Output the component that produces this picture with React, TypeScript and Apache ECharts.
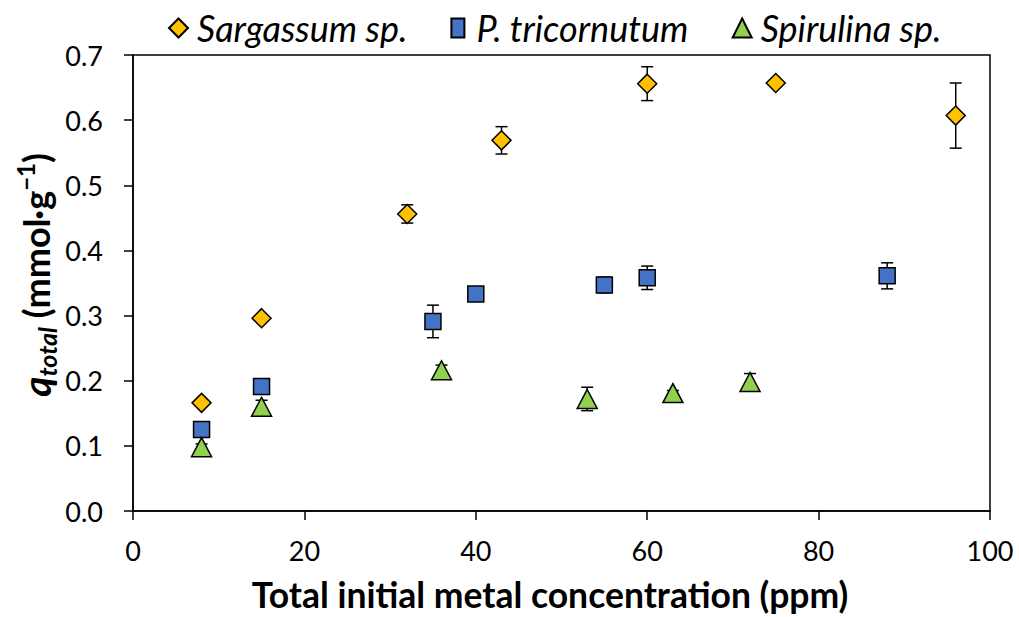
import React, { useEffect, useRef } from "react";
import * as echarts from "echarts";

const seriesNames = ["Sargassum sp.", "P. tricornutum", "Spirulina sp."];

const sargX = [8, 15, 32, 43, 60, 75, 96];
const sargY = [0.166, 0.296, 0.456, 0.569, 0.656, 0.657, 0.607];
const sargErr = [0.003, 0.003, 0.014, 0.021, 0.026, 0.003, 0.05];

const tricX = [8, 15, 35, 40, 55, 60, 88];
const tricY = [0.125, 0.191, 0.291, 0.333, 0.347, 0.358, 0.361];
const tricErr = [0.003, 0.003, 0.025, 0.003, 0.012, 0.018, 0.02];

const spirX = [8, 15, 36, 53, 63, 72];
const spirY = [0.098, 0.16, 0.216, 0.172, 0.181, 0.198];
const spirErr = [0.005, 0.01, 0.008, 0.018, 0.004, 0.013];

const xTitle = "Total initial metal concentration (ppm)";

const FONT = "Lato, 'Liberation Sans', sans-serif";

const zip = (xs: number[], ys: number[], es: number[]) =>
  xs.map((x, i) => [x, ys[i], es[i]]);

const errRender = (params: any, api: any) => {
  const x = api.value(0);
  const y = api.value(1);
  const e = api.value(2);
  const p0 = api.coord([x, y - e]);
  const p1 = api.coord([x, y + e]);
  const hw = 6;
  const style = { stroke: "#000", lineWidth: 1.5 };
  return {
    type: "group",
    children: [
      { type: "line", shape: { x1: p0[0], y1: p0[1], x2: p1[0], y2: p1[1] }, style },
      { type: "line", shape: { x1: p0[0] - hw, y1: p0[1], x2: p0[0] + hw, y2: p0[1] }, style },
      { type: "line", shape: { x1: p1[0] - hw, y1: p1[1], x2: p1[0] + hw, y2: p1[1] }, style },
    ],
  };
};

export default function App() {
  const ref = useRef<HTMLDivElement>(null);
  useEffect(() => {
    document.body.style.margin = "0";
    const chart = echarts.init(ref.current!, null, { renderer: "svg" });
    const option: any = {
      animation: false,
      backgroundColor: "#fff",
      grid: {
        left: 133,
        top: 55,
        right: 29,
        bottom: 106,
        show: true,
        borderColor: "#000",
        borderWidth: 1.5,
        containLabel: false,
        outerBoundsMode: "none",
      },
      legend: {
        left: 168,
        top: 10,
        padding: 0,
        itemWidth: 19,
        itemHeight: 19,
        itemGap: 43,
        textStyle: {
          fontFamily: FONT,
          fontStyle: "italic",
          fontSize: 36,
          color: "#000",
          padding: [0, 0, 0, 4],
        },
        data: [
          { name: seriesNames[0], icon: "diamond" },
          { name: seriesNames[1], icon: "path://M0 0H13V19H0Z" },
          { name: seriesNames[2], icon: "triangle" },
        ],
      },
      xAxis: {
        type: "value",
        min: 0,
        max: 100,
        interval: 20,
        axisLine: { show: true, lineStyle: { color: "#000", width: 1.5 } },
        axisTick: { show: true, inside: false, length: 9, lineStyle: { color: "#000", width: 1.5 } },
        splitLine: { show: false },
        axisLabel: { margin: 26, fontFamily: FONT, fontSize: 27, color: "#000" },
      },
      yAxis: {
        type: "value",
        min: 0,
        max: 0.7,
        interval: 0.1,
        axisLine: { show: true, lineStyle: { color: "#000", width: 1.5 } },
        axisTick: { show: true, inside: false, length: 9, lineStyle: { color: "#000", width: 1.5 } },
        splitLine: { show: false },
        axisLabel: {
          margin: 30,
          fontFamily: FONT,
          fontSize: 27,
          color: "#000",
          formatter: (v: number) => v.toFixed(1),
        },
      },
      graphic: [
        {
          type: "text",
          x: 550,
          y: 594,
          style: {
            text: xTitle,
            fontFamily: FONT,
            fontWeight: "bold",
            fontSize: 35.5,
            fill: "#000",
            textAlign: "center",
            textVerticalAlign: "middle",
          },
        },
        {
          type: "text",
          x: 36,
          y: 275,
          rotation: Math.PI / 2,
          style: {
            text: "{q|q}{sub|total}{b| (mmol·g}{sup|−1}{b|)}",
            fill: "#000",
            textAlign: "center",
            textVerticalAlign: "middle",
            rich: {
              q: { fontFamily: FONT, fontWeight: "bold", fontStyle: "italic", fontSize: 39, lineHeight: 46, fill: "#000" },
              sub: { fontFamily: FONT, fontWeight: "bold", fontStyle: "italic", fontSize: 25, lineHeight: 44, verticalAlign: "bottom", fill: "#000" },
              b: { fontFamily: FONT, fontWeight: "bold", fontSize: 36, lineHeight: 46, fill: "#000" },
              sup: { fontFamily: FONT, fontWeight: "bold", fontSize: 24, lineHeight: 46, verticalAlign: "top", fill: "#000" },
            },
          },
        },
      ],
      series: [
        {
          name: "errSarg",
          type: "custom",
          renderItem: errRender,
          data: zip(sargX, sargY, sargErr),
          encode: { x: 0, y: 1 },
          z: 1,
          silent: true,
        },
        {
          name: "errTric",
          type: "custom",
          renderItem: errRender,
          data: zip(tricX, tricY, tricErr),
          encode: { x: 0, y: 1 },
          z: 1,
          silent: true,
        },
        {
          name: "errSpir",
          type: "custom",
          renderItem: errRender,
          data: zip(spirX, spirY, spirErr),
          encode: { x: 0, y: 1 },
          z: 1,
          silent: true,
        },
        {
          name: seriesNames[0],
          type: "scatter",
          symbol: "diamond",
          symbolSize: 19,
          data: sargX.map((x, i) => [x, sargY[i]]),
          itemStyle: { color: "#FFC000", borderColor: "#000", borderWidth: 1.5, opacity: 1 },
          z: 3,
        },
        {
          name: seriesNames[1],
          type: "scatter",
          symbol: "rect",
          symbolSize: 16,
          data: tricX.map((x, i) => [x, tricY[i]]),
          itemStyle: { color: "#4472C4", borderColor: "#000", borderWidth: 1.5, opacity: 1 },
          z: 3,
        },
        {
          name: seriesNames[2],
          type: "scatter",
          symbol: "triangle",
          symbolSize: [20, 19],
          data: spirX.map((x, i) => [x, spirY[i]]),
          itemStyle: { color: "#92D050", borderColor: "#000", borderWidth: 1.5, opacity: 1 },
          z: 3,
        },
      ],
    };
    chart.setOption(option);
    return () => chart.dispose();
  }, []);
  return <div ref={ref} style={{ width: 1019, height: 617 }} />;
}
